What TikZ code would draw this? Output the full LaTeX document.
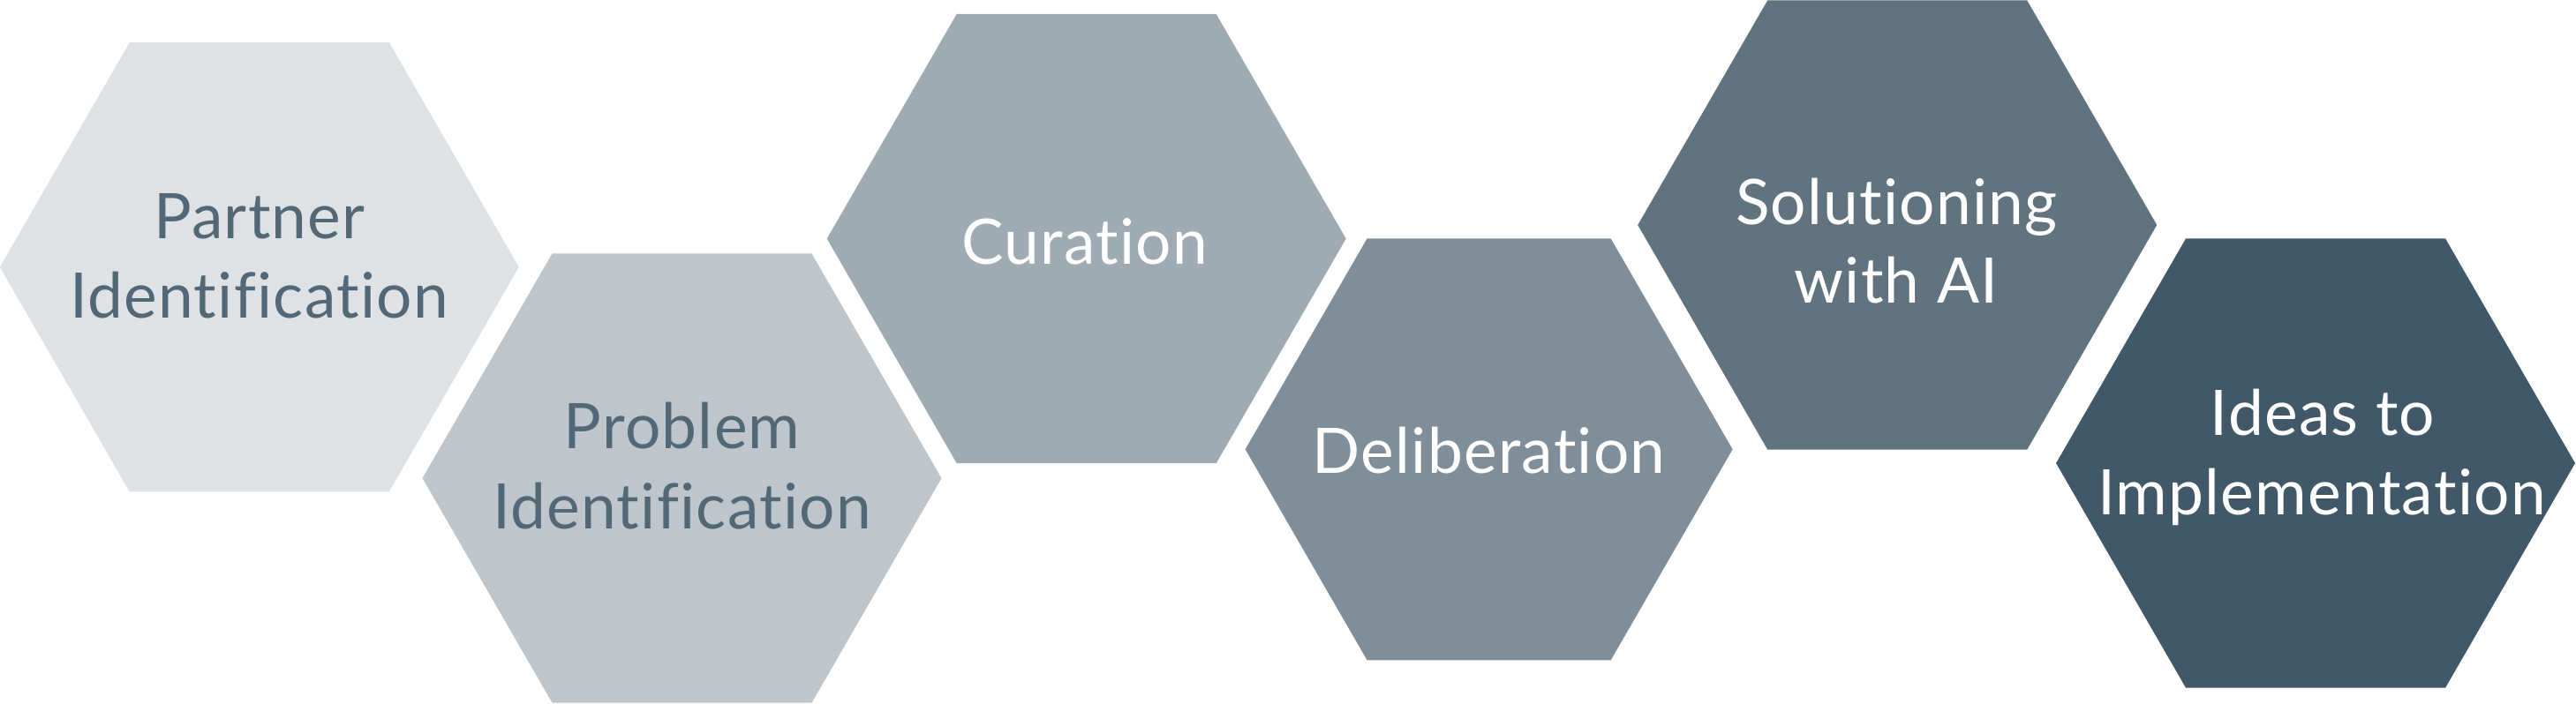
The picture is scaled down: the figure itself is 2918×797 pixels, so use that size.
\documentclass[tikz,border=0pt]{standalone}
\usepackage{fontspec}
\setmainfont{Lato}[Ligatures={NoCommon}]
\usepackage{tikz}
\usetikzlibrary{shapes.geometric}
\definecolor{hexA}{HTML}{DFE2E5}
\definecolor{hexB}{HTML}{BEC6CC}
\definecolor{hexC}{HTML}{9FABB3}
\definecolor{hexD}{HTML}{7F8E98}
\definecolor{hexE}{HTML}{60737F}
\definecolor{hexF}{HTML}{415868}
\definecolor{txtdark}{HTML}{536877}
\tikzset{hexa/.style={regular polygon, regular polygon sides=6,
    inner sep=0pt, outer sep=0pt, minimum size=147pt}}
\tikzset{lbl/.style={anchor=base, inner sep=0pt,
    font=\fontsize{17.8}{20}\selectfont\addfontfeatures{LetterSpace=1.8}}}

\begin{document}
\begin{tikzpicture}[x=0.25pt, y=-0.25pt]
  \useasboundingbox (0,0) rectangle (2918,797);

  \node[hexa, fill=hexA] (partner) at (293.8,302.7) {};
  \node[hexa, fill=hexB] (problem) at (772.5,542) {};
  \node[hexa, fill=hexC] (curation) at (1230.7,270.5) {};
  \node[hexa, fill=hexD, minimum size=138pt] (deliberation) at (1686.6,509.3) {};
  \node[hexa, fill=hexE] (solutioning) at (2149.2,255) {};
  \node[hexa, fill=hexF] (ideas) at (2623,525) {};

  \node[lbl, text=txtdark] (partnerA) at (294,270) {Partner};
  \node[lbl, text=txtdark] (partnerB) at (293.5,360) {Identification};
  \node[lbl, text=txtdark] (problemA) at (772.7,508.4) {Problem};
  \node[lbl, text=txtdark] (problemB) at (772.4,599) {Identification};
  \node[lbl, text=white] (curationA) at (1228.7,299.4) {Curation};
  \node[lbl, text=white] (deliberationA) at (1686.8,536.9) {Deliberation};
  \node[lbl, text=white] (solutioningA) at (2148.3,254.2) {Solutioning};
  \node[lbl, text=white] (solutioningB) at (2148,343.7) {with AI};
  \node[lbl, text=white] (ideasA) at (2631,493) {Ideas to};
  \node[lbl, text=white] (ideasB) at (2629.8,583.6) {Implementation};

\end{tikzpicture}
\end{document}
